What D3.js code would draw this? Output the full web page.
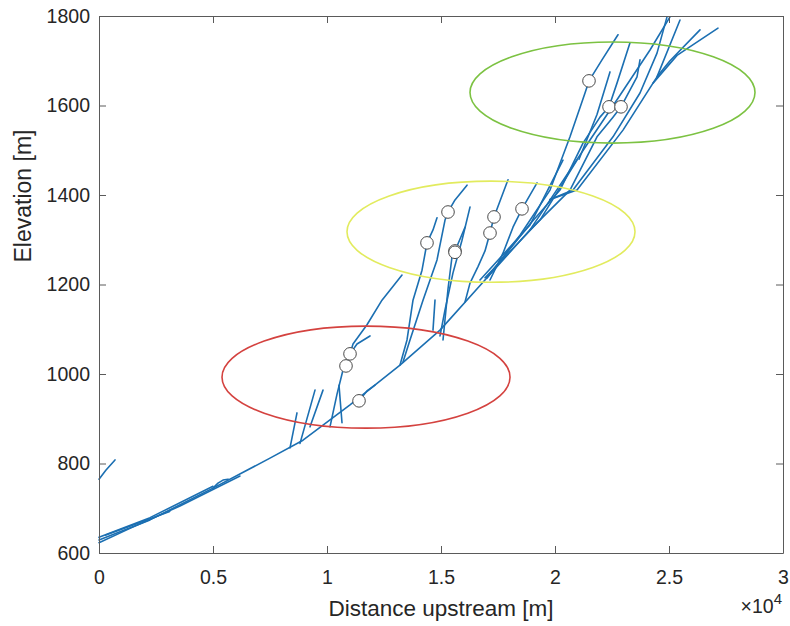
<!DOCTYPE html>
<html>
<head>
<meta charset="utf-8">
<script src="https://cdn.jsdelivr.net/npm/d3@7"></script>
<style>
  body { margin: 0; background: #fff; }
  svg { display: block; font-family: "Liberation Sans", Arial, sans-serif; }
</style>
</head>
<body>
<div class="chart"></div>
<script>
// river network long profiles, [distance upstream (m), elevation (m)]
var trunk = [[0,629],[2237,674],[5000,745],[7500,812],[8947,852],[11009,931],[13202,1020],[14956,1098],[17018,1215],[18904,1322],[20219,1422],[21535,1523],[22851,1623],[24167,1724],[25044,1798]];
var lowerStrands = [
  [[0,623],[1360,655],[3553,705],[6184,772]],
  [[0,635],[2237,679],[5000,749]],
  [[300,640],[1800,668],[3100,693]],
  [[5000,745],[5219,756],[5439,763],[5658,765]],
  [[0,765],[300,785],[702,808]]
];
var branches = [
  // red zone
  [[8377,835],[8684,913]],
  [[8816,845],[9474,964]],
  [[9255,882],[9825,964]],
  [[10131,882],[10439,955],[10702,1009],[10833,1018],[11009,1045],[11141,1067],[11754,1110],[12412,1165],[13290,1221]],
  [[11009,1045],[11316,1067],[11886,1085]],
  [[10658,891],[10526,975]],
  [[11404,940],[11754,962],[12105,975]],
  // yellow zone
  [[13202,1020],[13509,1076],[13772,1165],[14167,1232],[14386,1293],[14649,1322],[14825,1349]],
  [[13333,1027],[13640,1076],[14211,1165],[14825,1255],[15176,1344],[15307,1362],[15614,1389],[16141,1422]],
  [[14956,1085],[15176,1143],[15526,1226],[15921,1299],[16272,1373]],
  [[15088,1076],[15307,1190],[15483,1262],[15614,1275],[16053,1328]],
  [[14649,1098],[14737,1165]],
  [[16053,1161],[16272,1203],[16623,1240],[16930,1275],[17149,1315],[17325,1351],[17939,1434]],
  [[17149,1210],[17719,1270],[18158,1328],[18553,1369],[19211,1427]],
  [[16710,1210],[18904,1333],[20350,1478]],
  [[16930,1215],[19342,1344],[20965,1478]],
  // green zone
  [[17018,1215],[18465,1310],[19781,1411],[20658,1530],[21316,1628],[21491,1655],[22061,1702],[22763,1758]],
  [[17018,1215],[18904,1335],[20219,1411],[21228,1516],[21974,1574],[22369,1597],[22719,1650],[23290,1740]],
  [[18904,1322],[20658,1411],[21842,1530],[22544,1574],[22895,1597],[23597,1664],[23728,1702]],
  [[19781,1390],[20789,1411],[22544,1530],[23728,1628],[24474,1717],[24913,1798]],
  [[19781,1390],[20965,1411],[22982,1545],[24474,1664],[25483,1791]],
  [[21053,1480],[21842,1580],[22412,1675]],
  [[24474,1664],[25044,1700],[26360,1769]],
  [[24300,1650],[25351,1712],[27149,1773]]
];

// marked points
var ptsRed = [[10833,1018],[11009,1045],[11404,940]];
var ptsYellow = [[14386,1293],[15307,1362],[15614,1275],[15614,1272],[17149,1315],[17325,1351],[18553,1369]];
var ptsGreen = [[21491,1655],[22369,1597],[22895,1597]];

// ellipses: centre x, centre y, half width, half height
var zones = [
  { cx: 11711, cy: 993, rx: 6316, ry: 114, color: "#d4423f" },
  { cx: 17193, cy: 1318, rx: 6316, ry: 113, color: "#e2eb5e" },
  { cx: 22522, cy: 1629, rx: 6250, ry: 113, color: "#7cc242" }
];

var xTicks = [0, 5000, 10000, 15000, 20000, 25000, 30000];
var yTicks = [600, 800, 1000, 1200, 1400, 1600, 1800];

var width = 790, height = 626;
var padL = 99, padR = 783, padT = 16, padB = 553;

var svg = d3.select(".chart").append("svg")
  .attr("width", width)
  .attr("height", height);

var x = d3.scaleLinear().domain([0, 30000]).range([padL, padR]);
var y = d3.scaleLinear().domain([600, 1800]).range([padB, padT]);

var line = d3.line()
  .x(function (d) { return x(d[0]) })
  .y(function (d) { return y(d[1]) });

var plot = svg.append("g");

var allLines = [trunk].concat(lowerStrands).concat(branches);
plot.selectAll(".river")
  .data(allLines).enter()
  .append("path")
  .attr("class", "river")
  .attr("d", line)
  .style("fill", "none")
  .style("stroke", "#1b6fb2")
  .style("stroke-width", 1.6)
  .style("stroke-linejoin", "round")
  .style("stroke-linecap", "round");

plot.selectAll(".zone")
  .data(zones).enter()
  .append("ellipse")
  .attr("cx", function (d) { return x(d.cx) })
  .attr("cy", function (d) { return y(d.cy) })
  .attr("rx", function (d) { return x(d.rx) - x(0) })
  .attr("ry", function (d) { return y(600) - y(600 + d.ry) })
  .style("fill", "none")
  .style("stroke", function (d) { return d.color })
  .style("stroke-width", 1.6);

plot.selectAll(".pt")
  .data(ptsRed.concat(ptsYellow).concat(ptsGreen)).enter()
  .append("circle")
  .attr("cx", function (d) { return x(d[0]) })
  .attr("cy", function (d) { return y(d[1]) })
  .attr("r", 6.3)
  .style("fill", "#fff")
  .style("stroke", "#4a4a4a")
  .style("stroke-width", 1);

// Axes with inward ticks, box on
var xAxis = d3.axisBottom(x).tickValues(xTicks).tickSizeInner(-7).tickSizeOuter(0).tickPadding(17)
  .tickFormat(function (d) { return d3.format("~g")(d / 10000) });
var yAxis = d3.axisLeft(y).tickValues(yTicks).tickSizeInner(-7).tickSizeOuter(0).tickPadding(9)
  .tickFormat(d3.format("d"));
var xTop = d3.axisTop(x).tickValues(xTicks).tickSizeInner(-7).tickSizeOuter(0).tickFormat("");
var yRight = d3.axisRight(y).tickValues(yTicks).tickSizeInner(-7).tickSizeOuter(0).tickFormat("");

svg.append("g").attr("transform", `translate(0, ${padB})`).call(xAxis);
svg.append("g").attr("transform", `translate(${padL}, 0)`).call(yAxis);
svg.append("g").attr("transform", `translate(0, ${padT})`).call(xTop);
svg.append("g").attr("transform", `translate(${padR}, 0)`).call(yRight);

svg.selectAll(".domain, .tick line").style("stroke", "#5a5a5a");
svg.selectAll(".tick text").style("font-size", "19.5px").style("fill", "#262626")
  .style("font-family", '"Liberation Sans", Arial, sans-serif');

svg.append("text")
  .attr("x", (padL + padR) / 2)
  .attr("y", 616)
  .attr("text-anchor", "middle")
  .style("font-size", "22.5px")
  .style("fill", "#262626")
  .text("Distance upstream [m]");

svg.append("text")
  .attr("transform", `translate(31, 196) rotate(-90)`)
  .attr("text-anchor", "middle")
  .style("font-size", "23px")
  .style("fill", "#262626")
  .text("Elevation [m]");

var expo = svg.append("text")
  .attr("x", 782)
  .attr("y", 613)
  .attr("text-anchor", "end")
  .style("font-size", "19.5px")
  .style("fill", "#262626");
expo.append("tspan").text("×10");
expo.append("tspan").attr("dy", -9).style("font-size", "15px").text("4");
</script>
</body>
</html>
